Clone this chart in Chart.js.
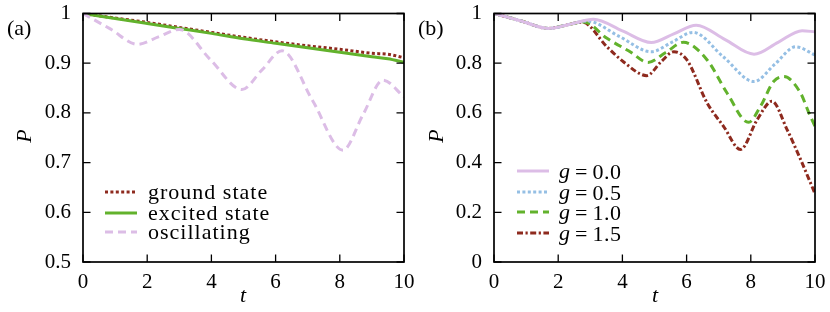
<!DOCTYPE html>
<html><head><meta charset="utf-8">
<script src="https://cdn.jsdelivr.net/npm/chart.js@4.4.1/dist/chart.umd.min.js"></script>
<style>
html,body{margin:0;padding:0;background:#fff;}
#wrap{position:relative;width:830px;height:312px;}
canvas{position:absolute;top:0;}
</style></head><body>
<div id="wrap">
<canvas id="ca" width="415" height="312" style="left:0;width:415px;height:312px"></canvas>
<canvas id="cb" width="415" height="312" style="left:415px;width:415px;height:312px"></canvas>
</div>
<script>
// ---------- Panel (a) data ----------
const xTicks = [0, 2, 4, 6, 8, 10];
const xTickLabels = ['0', '2', '4', '6', '8', '10'];
const yTicksA = [0.5, 0.6, 0.7, 0.8, 0.9, 1.0];
const yTickLabelsA = ['0.5', '0.6', '0.7', '0.8', '0.9', '1'];

const groundT = [0, 1, 2, 3, 4, 5, 6, 7, 8, 9, 9.5, 10];
const groundP = [1.0, 0.991, 0.982, 0.972, 0.962, 0.952, 0.943, 0.935, 0.928, 0.920, 0.918, 0.911];
const excitedT = [0, 1, 2, 3, 4, 5, 6, 7, 8, 9, 9.5, 10];
const excitedP = [1.0, 0.990, 0.980, 0.970, 0.960, 0.949, 0.940, 0.931, 0.922, 0.913, 0.909, 0.902];
const oscT = [0, 0.85, 1.7, 2.35, 3.0, 3.97, 4.95, 5.57, 6.2, 7.15, 8.1, 8.72, 9.35, 10];
const oscP = [1.0, 0.969, 0.938, 0.953, 0.968, 0.907, 0.847, 0.886, 0.925, 0.825, 0.725, 0.796, 0.866, 0.832];
const legendA = ['ground state', 'excited state', 'oscillating'];

// ---------- Panel (b) data ----------
const yTicksB = [0, 0.2, 0.4, 0.6, 0.8, 1.0];
const yTickLabelsB = ['0', '0.2', '0.4', '0.6', '0.8', '1'];
const gValues = ['0.0', '0.5', '1.0', '1.5'];

const g00T = [0, 0.85, 1.7, 2.4, 3.1, 4.0, 4.9, 5.6, 6.3, 7.2, 8.1, 8.85, 9.6, 10];
const g00P = [1.0, 0.97, 0.94, 0.958, 0.977, 0.93, 0.883, 0.918, 0.953, 0.895, 0.836, 0.884, 0.931, 0.926];
const g05T = [0, 0.85, 1.7, 2.3, 2.9, 3.9, 4.9, 5.55, 6.2, 7.15, 8.1, 8.75, 9.4, 10];
const g05P = [1.0, 0.97, 0.94, 0.955, 0.970, 0.908, 0.846, 0.885, 0.924, 0.825, 0.726, 0.796, 0.866, 0.833];
const g10T = [0, 0.85, 1.7, 2.25, 2.8, 3.52, 4.24, 4.8, 5.35, 5.9, 6.64, 7.26, 7.93, 8.3, 8.71, 9.03, 9.55, 9.81, 10];
const g10P = [1.0, 0.97, 0.94, 0.953, 0.966, 0.90, 0.846, 0.803, 0.843, 0.884, 0.813, 0.68, 0.562, 0.626, 0.726, 0.746, 0.68, 0.60, 0.546];
const g15T = [0, 0.85, 1.7, 2.2, 2.75, 3.52, 4.03, 4.76, 5.2, 5.6, 6.01, 6.64, 7.15, 7.68, 8.2, 8.66, 9.13, 9.55, 10];
const g15P = [1.0, 0.97, 0.94, 0.952, 0.965, 0.866, 0.806, 0.75, 0.805, 0.846, 0.813, 0.64, 0.546, 0.453, 0.573, 0.647, 0.533, 0.413, 0.275];

// ---------- styles ----------
const C_RED = '#8e2a1e', C_GREEN = '#62b22c', C_PINK = '#dcbde6', C_BLUE = '#95bfe4';
const FONT = '"Liberation Serif", "Times New Roman", Tinos, "DejaVu Serif", serif';
const D_DOT = [3, 2.4], D_DASH = [8, 5], D_DASHDOT = [6, 2.5, 2.2, 2.5];

function pts(t, p) { return t.map((v, i) => ({ x: v, y: p[i] })); }
function ds(label, t, p, color, dash, w) {
  return { label, data: pts(t, p), borderColor: color, borderDash: dash, borderWidth: w,
           pointRadius: 0, fill: false, cubicInterpolationMode: 'monotone', borderCapStyle: 'butt' };
}

const framePlugin = {
  id: 'frame',
  afterDatasetsDraw(chart) {
    const { ctx, chartArea: a, scales: { x, y } } = chart;
    ctx.save();
    ctx.setLineDash([]);
    ctx.strokeStyle = '#000';
    ctx.lineWidth = 1.3;
    const L = 7.5;
    ctx.beginPath();
    x.ticks.forEach(t => { const px = x.getPixelForValue(t.value);
      ctx.moveTo(px, a.bottom); ctx.lineTo(px, a.bottom - L);
      ctx.moveTo(px, a.top); ctx.lineTo(px, a.top + L); });
    y.ticks.forEach(t => { const py = y.getPixelForValue(t.value);
      ctx.moveTo(a.left, py); ctx.lineTo(a.left + L, py);
      ctx.moveTo(a.right, py); ctx.lineTo(a.right - L, py); });
    ctx.stroke();
    ctx.lineWidth = 1.7;
    ctx.strokeRect(a.left, a.top, a.right - a.left, a.bottom - a.top);
    ctx.restore();
  }
};

const decorPlugin = {
  id: 'decor',
  afterDraw(chart, args, o) {
    const ctx = chart.ctx;
    ctx.save();
    ctx.fillStyle = '#000';
    ctx.textBaseline = 'alphabetic';
    ctx.font = '22px ' + FONT;
    ctx.textAlign = 'left';
    ctx.fillText(o.panel, o.panelX, 35);
    ctx.font = 'italic 22px ' + FONT;
    ctx.textAlign = 'center';
    ctx.fillText('t', o.tX, 302);
    ctx.save();
    ctx.translate(o.pX, 136);
    ctx.rotate(-Math.PI / 2);
    ctx.textBaseline = 'middle';
    ctx.fillText('P', 0, 0);
    ctx.restore();
    o.items.forEach((it, i) => {
      const yy = o.legY[i];
      ctx.save();
      ctx.strokeStyle = it.color; ctx.lineWidth = it.w; ctx.setLineDash(it.dash); ctx.lineCap = 'butt';
      ctx.beginPath(); ctx.moveTo(o.legX1, yy); ctx.lineTo(o.legX2, yy); ctx.stroke();
      ctx.restore();
      ctx.save();
      ctx.textAlign = 'left';
      ctx.textBaseline = 'middle';
      let x = o.legTX;
      if (it.g) {
        ctx.font = 'italic 22px ' + FONT;
        ctx.fillText('g', x, yy + 1);
        x += ctx.measureText('g').width + 5;
        ctx.font = '22px ' + FONT;
        ctx.fillText('=', x, yy + 2);
        x += ctx.measureText('=').width + 5;
        ctx.letterSpacing = '0.5px';
        ctx.fillText(it.text, x, yy + 2);
      } else {
        ctx.font = '22px ' + FONT;
        ctx.letterSpacing = '1px';
        ctx.fillText(it.text, x, yy + 1);
      }
      ctx.restore();
    });
    ctx.restore();
  }
};

function makeChart(id, datasets, yMin, yMax, yTicks, yLabels, yW, padRight, decor) {
  return new Chart(document.getElementById(id), {
    type: 'line',
    data: { datasets },
    plugins: [framePlugin, decorPlugin],
    options: {
      responsive: false, animation: false, events: [],
      layout: { padding: { top: 13.5, right: padRight, left: 0, bottom: 0 } },
      plugins: { legend: { display: false }, tooltip: { enabled: false }, decor },
      scales: {
        x: { type: 'linear', min: 0, max: 10,
             afterBuildTicks: s => { s.ticks = xTicks.map(v => ({ value: v })); },
             afterFit: s => { s.height = 50; s.paddingLeft = 0; s.paddingRight = 0; },
             grid: { display: false, drawTicks: false }, border: { display: false },
             ticks: { color: '#000', padding: 8, maxRotation: 0, autoSkip: false,
                      font: { family: FONT, size: 21 },
                      callback: (v, i) => xTickLabels[i] } },
        y: { type: 'linear', min: yMin, max: yMax,
             afterBuildTicks: s => { s.ticks = yTicks.map(v => ({ value: v })); },
             afterFit: s => { s.width = yW; s.paddingTop = 0; s.paddingBottom = 0; },
             grid: { display: false, drawTicks: false }, border: { display: false },
             ticks: { color: '#000', padding: 12, autoSkip: false,
                      font: { family: FONT, size: 21 },
                      callback: (v, i) => yLabels[i] } }
      }
    }
  });
}

makeChart('ca', [
  ds(legendA[2], oscT, oscP, C_PINK, D_DASH, 3),
  ds(legendA[1], excitedT, excitedP, C_GREEN, [], 3),
  ds(legendA[0], groundT, groundP, C_RED, D_DOT, 3)
], 0.5, 1, yTicksA, yTickLabelsA, 83, 11, {
  panel: '(a)', panelX: 7, tX: 243, pX: 25,
  legX1: 105, legX2: 137, legTX: 148, legY: [192, 213, 232],
  items: [
    { text: legendA[0], color: C_RED, dash: D_DOT, w: 3 },
    { text: legendA[1], color: C_GREEN, dash: [], w: 3 },
    { text: legendA[2], color: C_PINK, dash: D_DASH, w: 3 }
  ]
});

makeChart('cb', [
  ds('g = ' + gValues[0], g00T, g00P, C_PINK, [], 3),
  ds('g = ' + gValues[1], g05T, g05P, C_BLUE, D_DOT, 3),
  ds('g = ' + gValues[2], g10T, g10P, C_GREEN, D_DASH, 3),
  ds('g = ' + gValues[3], g15T, g15P, C_RED, D_DASHDOT, 3)
], 0, 1, yTicksB, yTickLabelsB, 79, 15, {
  panel: '(b)', panelX: 3, tX: 240, pX: 22,
  legX1: 102, legX2: 134, legTX: 144, legY: [171, 192, 212, 233],
  items: [
    { text: gValues[0], color: C_PINK, dash: [], w: 3, g: true },
    { text: gValues[1], color: C_BLUE, dash: D_DOT, w: 3, g: true },
    { text: gValues[2], color: C_GREEN, dash: D_DASH, w: 3, g: true },
    { text: gValues[3], color: C_RED, dash: D_DASHDOT, w: 3, g: true }
  ]
});
</script>
</body></html>
